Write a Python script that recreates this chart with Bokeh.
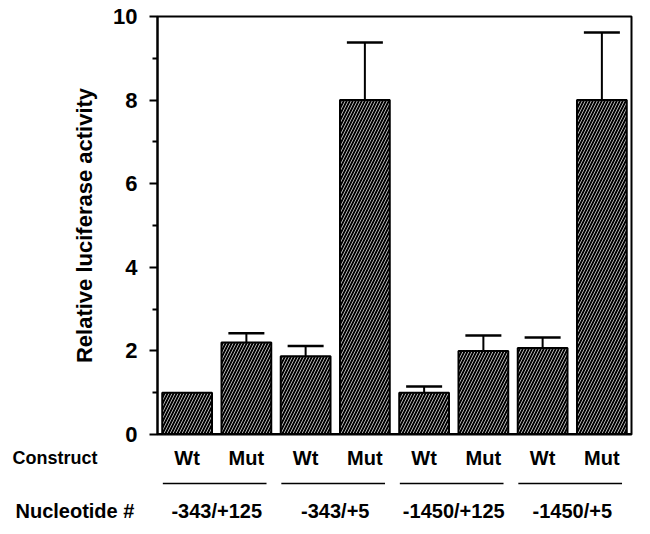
from bokeh.plotting import figure
from bokeh.layouts import column
from bokeh.models import Range1d, ColumnDataSource, Whisker, TeeHead, Span, FixedTicker
from bokeh.embed import file_html
from bokeh.resources import INLINE

constructs = ["Wt", "Mut", "Wt", "Mut", "Wt", "Mut", "Wt", "Mut"]
nucleotides = ["-343/+125", "-343/+5", "-1450/+125", "-1450/+5"]
activity = [1.0, 2.2, 1.87, 8.0, 1.0, 2.0, 2.07, 8.0]
error = [0.0, 0.22, 0.25, 1.38, 0.15, 0.37, 0.25, 1.62]
yticks = [0, 2, 4, 6, 8, 10]
minor_yticks = [1, 3, 5, 7, 9]

FONT = "Liberation Sans"

# layout (pixels)
W = 645
LEFT, TOP, FRAME_W, FRAME_H = 157, 16, 474, 418
TOP_H = 446
BOT_H = 84
n = len(activity)
ppx = FRAME_W / n          # pixels per x unit
ppy = FRAME_H / 10.0       # pixels per y unit

xs = [i + 0.5 for i in range(n)]
upper = [a + e for a, e in zip(activity, error)]

p = figure(width=W, height=TOP_H, output_backend="svg", toolbar_location=None,
           x_range=Range1d(0, n), y_range=Range1d(0, 10),
           min_border_left=LEFT, min_border_right=W - LEFT - FRAME_W,
           min_border_top=TOP, min_border_bottom=TOP_H - TOP - FRAME_H)
p.frame_align = False
p.xaxis.visible = False
p.xgrid.visible = False
p.ygrid.visible = False
p.outline_line_color = "black"
p.outline_line_width = 2
p.outline_line_alpha = 1.0

src = ColumnDataSource(dict(x=xs, top=activity))
p.vbar(x="x", top="top", width=0.84, source=src, fill_color="black",
       line_color="black", line_width=2, hatch_pattern="/", hatch_color="white",
       hatch_alpha=0.7, hatch_scale=6, hatch_weight=1)

keep = [i for i, e in enumerate(error) if e > 0]
err_src = ColumnDataSource(dict(x=[xs[i] for i in keep], lo=[activity[i] for i in keep],
                                hi=[upper[i] for i in keep]))
p.add_layout(Whisker(base="x", lower="lo", upper="hi", source=err_src,
                     upper_head=TeeHead(size=36, line_width=2.5, line_color="black"),
                     lower_head=None, line_width=2, line_color="black"))

p.add_layout(Span(location=0, dimension="width", line_color="black", line_width=3))

ax = p.yaxis[0]
ax.ticker = FixedTicker(ticks=yticks, minor_ticks=minor_yticks)
ax.axis_line_width = 2
ax.major_tick_line_width = 2
ax.minor_tick_line_width = 2
ax.major_tick_out = 8
ax.major_tick_in = 0
ax.minor_tick_out = 5
ax.minor_tick_in = 0
ax.major_label_text_font = FONT
ax.major_label_text_font_style = "bold"
ax.major_label_text_font_size = "22px"
ax.major_label_text_color = "black"
ax.major_label_standoff = 12
ax.axis_label = "Relative luciferase activity"
ax.axis_label_text_font = FONT
ax.axis_label_text_font_style = "bold"
ax.axis_label_text_font_size = "22px"
ax.axis_label_text_color = "black"
ax.axis_label_standoff = 13

# lower label panel, sharing the same data scales
y_top = -(TOP_H - TOP - FRAME_H) / ppy
y_bot = y_top - BOT_H / ppy
q = figure(width=W, height=BOT_H, output_backend="svg", toolbar_location=None,
           x_range=Range1d(-LEFT / ppx, (W - LEFT) / ppx), y_range=Range1d(y_bot, y_top),
           min_border_left=0, min_border_right=0, min_border_top=0, min_border_bottom=0)
q.frame_align = False
q.axis.visible = False
q.grid.visible = False
q.outline_line_color = None

q.text(x=xs, y=[-0.56] * n, text=constructs, text_font={"value": FONT},
       text_font_style="bold", text_font_size="20px", text_baseline="middle",
       text_align="center", text_color="black")
q.text(x=[-2.447], y=[-0.56], text=["Construct"], text_font={"value": FONT},
       text_font_style="bold", text_font_size="18px", text_baseline="middle",
       text_align="left", text_color="black")

gx0 = [2 * k + 0.09 for k in range(len(nucleotides))]
gx1 = [2 * k + 1.84 for k in range(len(nucleotides))]
q.segment(x0=gx0, x1=gx1, y0=[-1.17] * len(nucleotides), y1=[-1.17] * len(nucleotides),
          line_color="black", line_width=1.5)
q.text(x=[2 * k + 1 for k in range(len(nucleotides))], y=[-1.84] * len(nucleotides),
       text=nucleotides, text_font={"value": FONT}, text_font_style="bold",
       text_font_size="20px", text_baseline="middle", text_align="center", text_color="black")
q.text(x=[-2.397], y=[-1.84], text=["Nucleotide #"], text_font={"value": FONT},
       text_font_style="bold", text_font_size="20px", text_baseline="middle",
       text_align="left", text_color="black")

layout = column(p, q, spacing=0)
open("out.html", "w").write(file_html(layout, INLINE))
